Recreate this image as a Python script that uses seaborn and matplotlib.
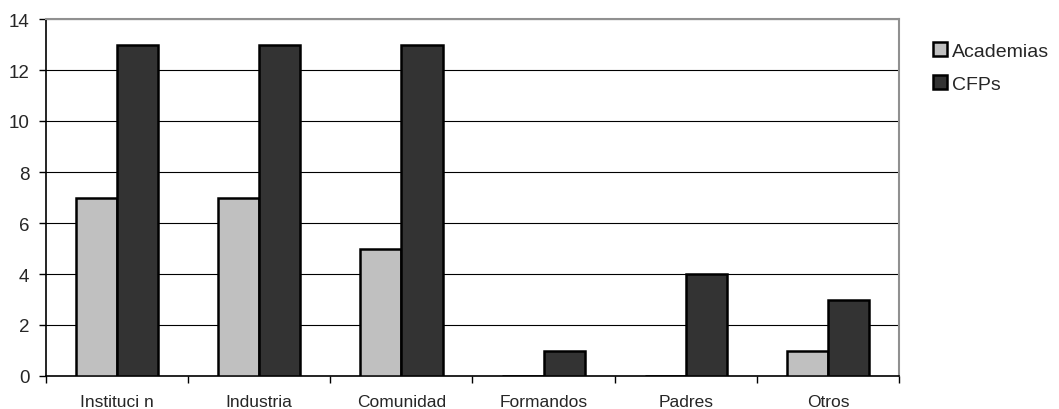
import matplotlib
matplotlib.use("Agg")
import matplotlib.pyplot as plt
import seaborn as sns
import pandas as pd
import numpy as np
from matplotlib.patches import Patch

categories = ["Instituci n", "Industria", "Comunidad", "Formandos", "Padres", "Otros"]
academias = [7, 7, 5, 0, 0, 1]
cfps = [13, 13, 13, 1, 4, 3]
series_names = ["Academias", "CFPs"]
colors = ["#C0C0C0", "#333333"]

df = pd.DataFrame({
    "cat": categories * 2,
    "val": academias + cfps,
    "serie": [series_names[0]] * len(categories) + [series_names[1]] * len(categories),
})

sns.set_style("white")
plt.rcParams["font.family"] = ["Liberation Sans", "DejaVu Sans"]

fig = plt.figure(figsize=(10.59, 4.10), dpi=100)
ax = fig.add_axes([46 / 1059, 1 - 377 / 410, (899 - 46) / 1059, (377 - 20) / 410])

sns.barplot(data=df, x="cat", y="val", hue="serie", order=categories,
            hue_order=series_names, palette=colors, width=0.58,
            edgecolor="black", linewidth=1.8, ax=ax, legend=False, zorder=3)

ax.set_xlim(-0.5, len(categories) - 0.5)
ax.set_ylim(0, 14)
ax.set_yticks(np.arange(0, 15, 2))
ax.yaxis.grid(True, color="black", linewidth=0.8, zorder=0)
ax.set_axisbelow(True)

# boundary ticks between categories, labels centred under each group
ax.set_xticks(np.arange(-0.5, len(categories), 1.0))
ax.set_xticklabels([])
ax.set_xticks(np.arange(len(categories)), minor=True)
ax.set_xticklabels(categories, minor=True, fontsize=12.5)
ax.tick_params(axis="x", which="major", direction="out", length=5, width=1, color="black", bottom=True)
ax.tick_params(axis="x", which="minor", length=0, pad=13)
ax.tick_params(axis="y", direction="out", length=5, width=1, color="black", left=True, labelsize=13.5, pad=7)

ax.set_xlabel("")
ax.set_ylabel("")
for side in ["left", "bottom"]:
    ax.spines[side].set_color("black")
    ax.spines[side].set_linewidth(1.2)
for side in ["right", "top"]:
    ax.spines[side].set_color("#909090")
    ax.spines[side].set_linewidth(1.5)

handles = [Patch(facecolor=c, edgecolor="black", linewidth=1.8) for c in colors]
fig.legend(handles, series_names, loc="upper left", bbox_to_anchor=(933 / 1059, 1 - 43 / 410),
           frameon=False, fontsize=14, handlelength=0.7, handleheight=0.7,
           handletextpad=0.3, labelspacing=0.8, borderaxespad=0, borderpad=0)

fig.savefig("out.png", dpi=100)
